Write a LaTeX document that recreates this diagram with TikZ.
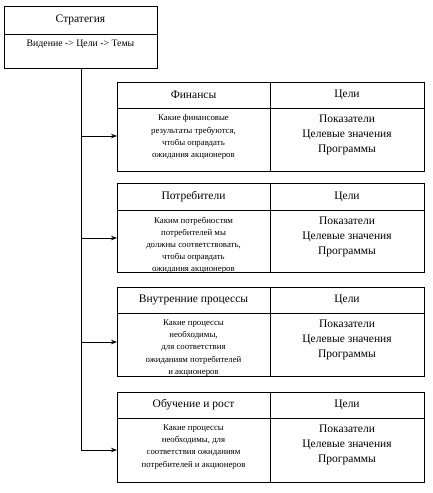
\documentclass[tikz,border=0pt]{standalone}
\usepackage{fontspec}
\setmainfont{Liberation Serif}
\usetikzlibrary{arrows.meta}
\tikzset{
  cell/.style={draw, line width=0.9pt, anchor=north west, inner sep=0pt, outer sep=0pt},
  titletext/.style={font=\fontsize{11.5}{13}\selectfont},
  qtext/.style={font=\fontsize{8.8}{12.2}\selectfont, align=center, inner sep=0pt, anchor=north},
  rtext/.style={font=\fontsize{11.5}{15}\selectfont, align=center, inner sep=0pt, anchor=north},
  link/.style={line width=0.9pt},
  arr/.style={line width=0.9pt, -{Stealth[length=6pt,width=4.5pt]}}
}
\newcommand\bscpanel[6]{%
  \node[cell, minimum width=153pt, minimum height={(#3-#2)*1pt}, titletext] (#1t) at (117,#2) {#5};
  \node[cell, minimum width=154pt, minimum height={(#3-#2)*1pt}, titletext] (#1g) at (270,#2) {Цели};
  \node[cell, minimum width=153pt, minimum height={(#4-#3)*1pt}] (#1q) at (117,#3) {};
  \node[cell, minimum width=154pt, minimum height={(#4-#3)*1pt}] (#1r) at (270,#3) {};
  \begin{scope}
    \clip (#1q.north west) rectangle (#1q.south east);
    \node[qtext] (#1qt) at ([yshift=-6.5pt]#1q.north) {#6};
  \end{scope}
  \node[rtext] (#1rt) at ([yshift=-6.5pt]#1r.north) {Показатели\\Целевые значения\\Программы};
}
\begin{document}
\begin{tikzpicture}[x=1pt,y=-1pt]
\useasboundingbox (0,0) rectangle (432,493);
% strategy box
\node[cell, minimum width=153pt, minimum height=28pt, titletext] (st) at (4,6) {Стратегия};
\node[cell, minimum width=153pt, minimum height=34pt] (sb) at (4,34) {};
\node[font=\fontsize{9.8}{11}\selectfont, inner sep=0pt, anchor=north] (sbt) at ([yshift=-6pt]sb.north) {Видение -> Цели -> Темы};
% panels
\bscpanel{a}{82}{108}{171}{Финансы}{Какие финансовые\\результаты требуются,\\чтобы оправдать\\ожидания акционеров}
\bscpanel{b}{183}{210}{272}{Потребители}{Каким потребностям\\потребителей мы\\должны соответствовать,\\чтобы оправдать\\ожидания акционеров}
\bscpanel{c}{287}{313}{376}{Внутренние процессы}{Какие процессы\\необходимы,\\для соответствия\\ожиданиям потребителей\\и акционеров}
\bscpanel{d}{392}{418}{482}{Обучение и рост}{Какие процессы\\необходимы, для\\соответствия ожиданиям\\потребителей и акционеров}
% trunk
\coordinate (j1) at (81,136);
\coordinate (j2) at (81,238);
\coordinate (j3) at (81,342);
\coordinate (j4) at (81,450);
\draw[link] (sb.south -| j4) -- (j4);
\draw[arr] (j1) -- (aq.west |- j1);
\draw[arr] (j2) -- (bq.west |- j2);
\draw[arr] (j3) -- (cq.west |- j3);
\draw[arr] (j4) -- (dq.west |- j4);
\end{tikzpicture}
\end{document}
